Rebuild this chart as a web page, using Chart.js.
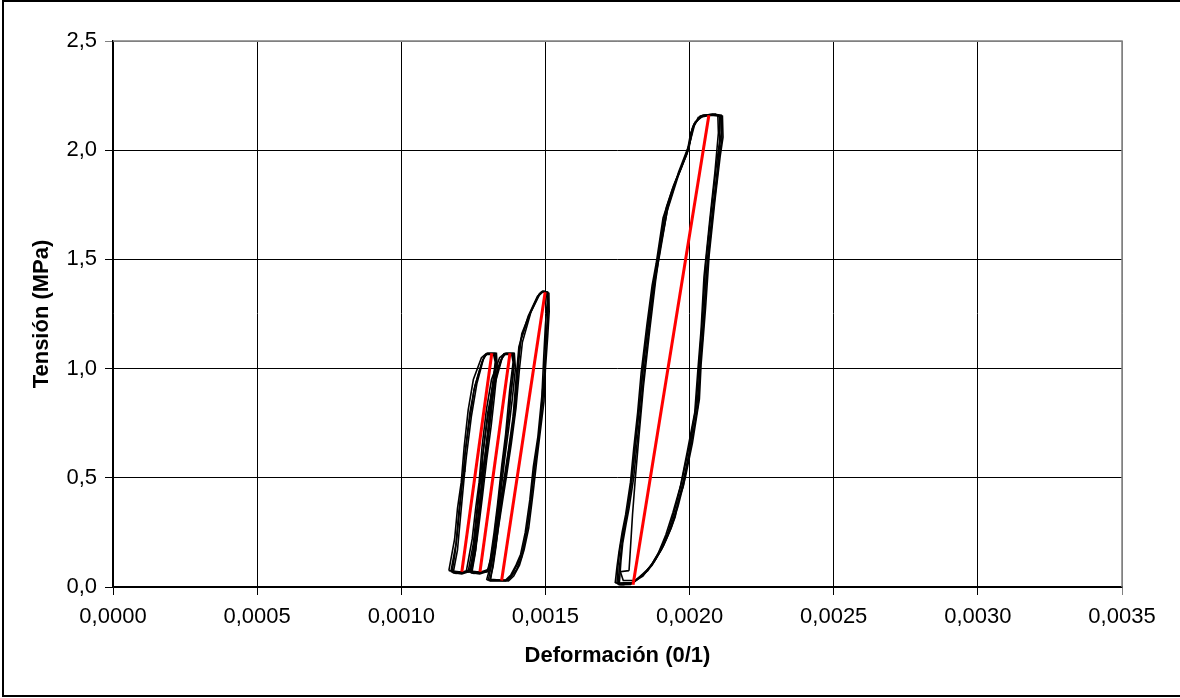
<html>
  <head>
    <style>
      body { margin: 0; background: #fff; }
      #wrap { position: absolute; left: 0; top: 0; width: 1180px; height: 698px; }
    </style>
  </head>
  <body>
    <div id="wrap"><canvas id="myChart" width="1180" height="698"></canvas></div>

    <script src="https://cdn.jsdelivr.net/npm/chart.js@4/dist/chart.umd.min.js"></script>
    <script>
      // ciclos de carga - descarga (deformacion, tension)
      const lazo1a = [[0.001172,0.070],[0.001190,0.20],[0.001200,0.35],[0.001212,0.49],[0.001222,0.62],[0.001238,0.80],[0.001255,0.92],[0.001283,1.04],[0.001297,1.07],[0.001325,1.07],[0.001330,1.02],[0.001318,0.88],[0.001305,0.72],[0.001290,0.57],[0.001275,0.40],[0.001263,0.26],[0.001250,0.14],[0.001240,0.08],[0.001205,0.065],[0.001172,0.070]]
      const lazo1b = [[0.001180,0.065],[0.001195,0.17],[0.001206,0.33],[0.001218,0.50],[0.001226,0.60],[0.001243,0.78],[0.001262,0.93],[0.001286,1.05],[0.001300,1.07],[0.001330,1.07],[0.001333,1.00],[0.001322,0.86],[0.001312,0.74],[0.001296,0.58],[0.001282,0.42],[0.001268,0.27],[0.001256,0.15],[0.001246,0.075],[0.001210,0.060],[0.001180,0.065]]
      const lazo1c = [[0.001165,0.075],[0.001185,0.22],[0.001195,0.36],[0.001208,0.48],[0.001218,0.64],[0.001232,0.81],[0.001250,0.95],[0.001278,1.05],[0.001292,1.065],[0.001320,1.065],[0.001326,1.03],[0.001314,0.90],[0.001300,0.70],[0.001286,0.55],[0.001272,0.38],[0.001260,0.25],[0.001246,0.12],[0.001236,0.07],[0.001200,0.07],[0.001165,0.075]]
      const lazo1d = [[0.001176,0.068],[0.001186,0.15],[0.001194,0.24],[0.001199,0.31],[0.001206,0.40],[0.001210,0.46],[0.001218,0.53],[0.001220,0.60],[0.001228,0.68],[0.001234,0.74],[0.001246,0.84],[0.001252,0.90],[0.001266,0.97],[0.001280,1.03],[0.001294,1.068],[0.001322,1.068],[0.001328,1.04],[0.001324,0.96],[0.001316,0.87],[0.001312,0.80],[0.001302,0.70],[0.001298,0.63],[0.001288,0.54],[0.001282,0.46],[0.001276,0.38],[0.001266,0.30],[0.001262,0.22],[0.001252,0.15],[0.001244,0.09],[0.001232,0.07],[0.001190,0.062],[0.001176,0.068]]

      const lazo2a = [[0.001232,0.070],[0.001250,0.20],[0.001262,0.35],[0.001273,0.49],[0.001284,0.62],[0.001300,0.80],[0.001318,0.92],[0.001347,1.04],[0.001360,1.07],[0.001388,1.07],[0.001392,1.02],[0.001380,0.88],[0.001368,0.72],[0.001352,0.57],[0.001338,0.40],[0.001326,0.26],[0.001312,0.14],[0.001302,0.08],[0.001268,0.065],[0.001232,0.070]]
      const lazo2b = [[0.001242,0.065],[0.001258,0.17],[0.001268,0.33],[0.001280,0.50],[0.001290,0.60],[0.001306,0.78],[0.001325,0.93],[0.001350,1.05],[0.001364,1.07],[0.001392,1.07],[0.001396,1.00],[0.001385,0.86],[0.001374,0.74],[0.001358,0.58],[0.001344,0.42],[0.001331,0.27],[0.001318,0.15],[0.001308,0.075],[0.001272,0.060],[0.001242,0.065]]
      const lazo2c = [[0.001226,0.075],[0.001246,0.22],[0.001258,0.36],[0.001270,0.48],[0.001280,0.64],[0.001295,0.81],[0.001313,0.95],[0.001341,1.05],[0.001355,1.065],[0.001383,1.065],[0.001388,1.03],[0.001376,0.90],[0.001362,0.70],[0.001348,0.55],[0.001334,0.38],[0.001322,0.25],[0.001308,0.12],[0.001298,0.07],[0.001262,0.07],[0.001226,0.075]]
      const lazo2d = [[0.001238,0.068],[0.001248,0.15],[0.001256,0.24],[0.001261,0.31],[0.001268,0.40],[0.001272,0.46],[0.001280,0.53],[0.001282,0.60],[0.001290,0.68],[0.001296,0.74],[0.001308,0.84],[0.001314,0.90],[0.001328,0.97],[0.001342,1.03],[0.001356,1.068],[0.001384,1.068],[0.001390,1.04],[0.001386,0.96],[0.001378,0.87],[0.001374,0.80],[0.001364,0.70],[0.001360,0.63],[0.001350,0.54],[0.001344,0.46],[0.001338,0.38],[0.001328,0.30],[0.001324,0.22],[0.001314,0.15],[0.001306,0.09],[0.001294,0.07],[0.001252,0.062],[0.001238,0.068]]

      const lazo3a = [[0.001302,0.030],[0.001315,0.12],[0.001332,0.26],[0.001346,0.38],[0.001360,0.49],[0.001378,0.65],[0.001394,0.80],[0.001404,0.98],[0.001414,1.13],[0.001446,1.25],[0.001478,1.34],[0.001490,1.355],[0.001508,1.35],[0.001510,1.28],[0.001505,1.18],[0.001498,1.02],[0.001492,0.87],[0.001478,0.70],[0.001464,0.57],[0.001452,0.42],[0.001436,0.26],[0.001420,0.16],[0.001405,0.11],[0.001385,0.06],[0.001367,0.030],[0.001302,0.030]]
      const lazo3b = [[0.001310,0.035],[0.001322,0.14],[0.001338,0.28],[0.001352,0.40],[0.001364,0.50],[0.001382,0.66],[0.001398,0.82],[0.001410,1.00],[0.001420,1.12],[0.001450,1.26],[0.001482,1.345],[0.001495,1.355],[0.001512,1.345],[0.001513,1.26],[0.001508,1.15],[0.001500,1.00],[0.001495,0.85],[0.001482,0.71],[0.001470,0.58],[0.001458,0.44],[0.001442,0.27],[0.001426,0.17],[0.001410,0.10],[0.001390,0.05],[0.001372,0.028],[0.001310,0.035]]
      const lazo3c = [[0.001296,0.032],[0.001310,0.10],[0.001326,0.24],[0.001340,0.36],[0.001355,0.48],[0.001372,0.63],[0.001388,0.78],[0.001398,0.95],[0.001408,1.10],[0.001440,1.24],[0.001472,1.33],[0.001486,1.35],[0.001504,1.35],[0.001506,1.30],[0.001500,1.20],[0.001494,1.05],[0.001488,0.88],[0.001474,0.69],[0.001458,0.55],[0.001446,0.40],[0.001430,0.25],[0.001414,0.15],[0.001398,0.10],[0.001380,0.055],[0.001362,0.032],[0.001296,0.032]]
      const lazo3d = [[0.001306,0.028],[0.001318,0.09],[0.001328,0.18],[0.001336,0.27],[0.001344,0.35],[0.001352,0.43],[0.001362,0.52],[0.001370,0.60],[0.001384,0.72],[0.001392,0.82],[0.001400,0.92],[0.001406,1.04],[0.001418,1.16],[0.001436,1.22],[0.001456,1.28],[0.001474,1.33],[0.001492,1.352],[0.001506,1.35],[0.001509,1.31],[0.001507,1.22],[0.001500,1.10],[0.001497,0.98],[0.001490,0.90],[0.001484,0.78],[0.001474,0.66],[0.001468,0.60],[0.001456,0.48],[0.001448,0.38],[0.001440,0.30],[0.001430,0.22],[0.001418,0.14],[0.001400,0.08],[0.001380,0.045],[0.001362,0.028],[0.001306,0.028]]

      const lazo4a = [[0.001748,0.015],[0.001752,0.10],[0.001759,0.18],[0.001772,0.27],[0.001783,0.34],[0.001800,0.49],[0.001812,0.65],[0.001826,0.82],[0.001838,1.00],[0.001858,1.22],[0.001876,1.40],[0.001890,1.50],[0.001915,1.71],[0.001952,1.86],[0.001995,2.00],[0.002009,2.10],[0.002036,2.155],[0.002080,2.165],[0.002110,2.16],[0.002112,2.05],[0.002100,1.95],[0.002082,1.75],[0.002062,1.50],[0.002050,1.25],[0.002036,1.00],[0.002030,0.84],[0.002005,0.65],[0.001979,0.49],[0.001955,0.36],[0.001931,0.26],[0.001905,0.18],[0.001879,0.12],[0.001850,0.07],[0.001828,0.045],[0.001800,0.015],[0.001748,0.015]]
      const lazo4b = [[0.001756,0.010],[0.001762,0.12],[0.001768,0.20],[0.001780,0.29],[0.001790,0.36],[0.001806,0.50],[0.001818,0.66],[0.001832,0.84],[0.001845,1.02],[0.001864,1.24],[0.001882,1.42],[0.001896,1.52],[0.001922,1.72],[0.001960,1.88],[0.001998,2.02],[0.002015,2.12],[0.002045,2.16],[0.002090,2.165],[0.002105,2.15],[0.002104,2.04],[0.002092,1.92],[0.002075,1.72],[0.002056,1.48],[0.002044,1.22],[0.002032,1.00],[0.002022,0.82],[0.001998,0.64],[0.001972,0.48],[0.001948,0.35],[0.001925,0.25],[0.001898,0.17],[0.001872,0.11],[0.001845,0.065],[0.001822,0.04],[0.001795,0.012],[0.001756,0.010]]
      const lazo4c = [[0.001742,0.018],[0.001748,0.09],[0.001755,0.16],[0.001766,0.25],[0.001778,0.33],[0.001795,0.48],[0.001806,0.63],[0.001820,0.80],[0.001832,0.98],[0.001852,1.20],[0.001870,1.38],[0.001884,1.48],[0.001908,1.69],[0.001945,1.84],[0.001990,1.98],[0.002004,2.08],[0.002030,2.15],[0.002075,2.16],[0.002114,2.155],[0.002116,2.06],[0.002106,1.97],[0.002088,1.77],[0.002068,1.52],[0.002055,1.27],[0.002040,1.02],[0.002034,0.86],[0.002010,0.66],[0.001985,0.50],[0.001960,0.37],[0.001936,0.27],[0.001910,0.19],[0.001884,0.13],[0.001855,0.075],[0.001832,0.05],[0.001805,0.02],[0.001742,0.018]]
      const lazo4d = [[0.001790,0.075],[0.001796,0.20],[0.001802,0.33],[0.001812,0.50],[0.001825,0.70],[0.001840,0.92],[0.001862,1.18],[0.001882,1.40],[0.001898,1.55],[0.001925,1.74],[0.001962,1.90],[0.002000,2.03],[0.002020,2.13],[0.002050,2.16],[0.002098,2.16],[0.002100,2.08],[0.002088,1.90],[0.002070,1.68],[0.002050,1.42],[0.002040,1.18],[0.002028,0.98],[0.002018,0.80],[0.001992,0.62],[0.001968,0.46],[0.001942,0.34],[0.001918,0.24],[0.001890,0.15],[0.001862,0.09],[0.001838,0.06],[0.001812,0.03],[0.001770,0.03],[0.001760,0.07],[0.001790,0.075]]
      const lazo4e = [[0.001752,0.012],[0.001756,0.08],[0.001762,0.16],[0.001770,0.24],[0.001786,0.36],[0.001796,0.46],[0.001808,0.60],[0.001816,0.72],[0.001830,0.88],[0.001842,1.05],[0.001856,1.20],[0.001872,1.36],[0.001886,1.46],[0.001900,1.60],[0.001920,1.74],[0.001940,1.82],[0.001972,1.92],[0.001998,2.01],[0.002012,2.11],[0.002040,2.158],[0.002085,2.162],[0.002108,2.158],[0.002110,2.08],[0.002102,2.00],[0.002096,1.88],[0.002080,1.70],[0.002072,1.60],[0.002060,1.45],[0.002052,1.30],[0.002046,1.15],[0.002038,1.04],[0.002032,0.92],[0.002026,0.84],[0.002012,0.74],[0.002000,0.62],[0.001990,0.55],[0.001978,0.46],[0.001962,0.40],[0.001950,0.32],[0.001936,0.27],[0.001920,0.22],[0.001902,0.17],[0.001888,0.14],[0.001870,0.10],[0.001856,0.08],[0.001838,0.05],[0.001820,0.035],[0.001800,0.02],[0.001770,0.01],[0.001752,0.012]]

      // rectas de modulo (rojo)
      const recta1 = [[0.001210,0.07],[0.001314,1.07]]
      const recta2 = [[0.001273,0.07],[0.001377,1.07]]
      const recta3 = [[0.001348,0.03],[0.001499,1.35]]
      const recta4 = [[0.001804,0.01],[0.002067,2.16]]

      const ticksX = [0, 0.0005, 0.001, 0.0015, 0.002, 0.0025, 0.003, 0.0035]
      const ticksY = [0, 0.5, 1, 1.5, 2, 2.5]

      const lazos = [lazo1a, lazo1b, lazo1c, lazo1d, lazo2a, lazo2b, lazo2c, lazo2d, lazo3a, lazo3b, lazo3c, lazo3d, lazo4a, lazo4b, lazo4c, lazo4d, lazo4e]
      const rectas = [recta1, recta2, recta3, recta4]

      const toPts = (arr) => arr.map((p) => ({ x: p[0], y: p[1] }))
      const datasets = []
      lazos.forEach((l) => {
        datasets.push({ data: toPts(l), borderColor: '#000', borderWidth: 1.6, order: 2 })
      })
      rectas.forEach((r) => {
        datasets.push({ data: toPts(r), borderColor: '#ff0000', borderWidth: 3, order: 1 })
      })

      const marco = {
        id: 'marco',
        afterDraw(chart) {
          const c = chart.ctx
          const a = chart.chartArea
          c.save()
          c.strokeStyle = '#808080'
          c.lineWidth = 1.5
          c.beginPath()
          c.moveTo(a.left, a.top)
          c.lineTo(a.right, a.top)
          c.lineTo(a.right, a.bottom)
          c.stroke()
          c.strokeStyle = '#000'
          c.lineWidth = 2
          c.strokeRect(3, 1, 1178, 695)
          c.restore()
        },
      }

      const fmt = (v, d) => v.toFixed(d).replace('.', ',')

      let chart = new Chart(document.getElementById('myChart'), {
        type: 'scatter',
        data: { datasets: datasets },
        options: {
          responsive: false,
          animation: false,
          showLine: true,
          elements: { point: { radius: 0 }, line: { tension: 0, fill: false } },
          layout: { padding: { top: 41, right: 58, left: 0, bottom: 0 } },
          plugins: { legend: { display: false }, tooltip: { enabled: false } },
          scales: {
            x: {
              type: 'linear',
              min: 0,
              max: 0.0035,
              afterBuildTicks: (s) => { s.ticks = ticksX.map((v) => ({ value: v })) },
              afterFit: (s) => { s.height = 111 },
              ticks: {
                color: '#000',
                padding: 9,
                maxRotation: 0,
                font: { family: 'Liberation Sans', size: 22 },
                callback: (v) => fmt(v, 4),
              },
              grid: {
                color: (ctx) => (ctx.index === ticksX.length - 1 ? '#808080' : '#000'),
                lineWidth: 1,
                tickLength: 8,
              },
              border: { color: '#000', width: 1.5 },
              title: {
                display: true,
                text: 'Deformación (0/1)',
                color: '#000',
                font: { family: 'Liberation Sans', size: 22, weight: 'bold' },
                padding: { top: 0, bottom: 29 },
              },
            },
            y: {
              type: 'linear',
              min: 0,
              max: 2.5,
              afterBuildTicks: (s) => { s.ticks = ticksY.map((v) => ({ value: v })) },
              afterFit: (s) => { s.width = 113 },
              ticks: {
                color: '#000',
                padding: 8,
                font: { family: 'Liberation Sans', size: 22 },
                callback: (v) => fmt(v, 1),
              },
              grid: {
                color: (ctx) => (ctx.index === ticksY.length - 1 ? '#808080' : '#000'),
                lineWidth: 1,
                tickLength: 8,
              },
              border: { color: '#000', width: 1.5 },
              title: {
                display: true,
                text: 'Tensión (MPa)',
                color: '#000',
                font: { family: 'Liberation Sans', size: 22, weight: 'bold' },
                padding: { top: 29, bottom: 0 },
              },
            },
          },
        },
        plugins: [marco],
      })
    </script>
  </body>
</html>
